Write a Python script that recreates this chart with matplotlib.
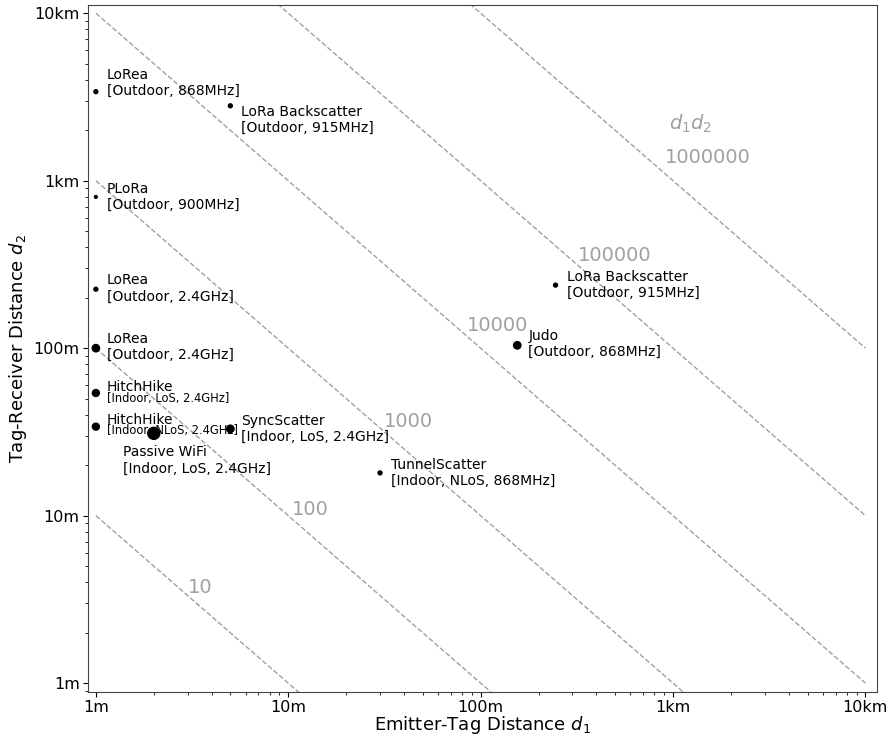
import numpy as np
import matplotlib
matplotlib.use("Agg")
import matplotlib.pyplot as plt
from matplotlib.ticker import FixedLocator, FixedFormatter, LogLocator, NullFormatter

# ---- data ----
names = ["LoRea", "LoRa Backscatter", "PLoRa", "LoRea", "LoRea", "HitchHike",
         "HitchHike", "Passive WiFi", "SyncScatter", "TunnelScatter", "Judo",
         "LoRa Backscatter"]
details = ["[Outdoor, 868MHz]", "[Outdoor, 915MHz]", "[Outdoor, 900MHz]",
           "[Outdoor, 2.4GHz]", "[Outdoor, 2.4GHz]", "[Indoor, LoS, 2.4GHz]",
           "[Indoor, NLoS, 2.4GHz]", "[Indoor, LoS, 2.4GHz]", "[Indoor, LoS, 2.4GHz]",
           "[Indoor, NLoS, 868MHz]", "[Outdoor, 868MHz]", "[Outdoor, 915MHz]"]
d1 = [1, 5, 1, 1, 1, 1, 1, 2, 5, 30, 155, 245]
d2 = [3400, 2800, 800, 225, 100, 54, 34, 31, 33, 18, 104, 238]
sizes = [8, 8, 4, 8, 28, 25, 25, 75, 28, 8, 28, 8]

products = [10, 100, 1000, 10000, 100000, 1000000]
prod_label_x = [3.5, 13.0, 42, 122, 500, 1520]
prod_label_y = [3.7, 10.9, 36.7, 137, 359, 1380]

tick_vals = [1, 10, 100, 1000, 10000]
tick_labels = ["1m", "10m", "100m", "1km", "10km"]

# label offsets (points) and small-bracket flags
offsets = [(8, 6.5), (8, -10), (8, 0), (8, 0.5), (8, 1), (8, 0), (8, 1),
           (-22, -19.5), (8, 0), (8, 0), (8, 1), (8, 0)]
small = [False, False, False, False, False, True, True, False, False, False, False, False]

fig = plt.figure(figsize=(8.95, 7.41), dpi=100)
ax = fig.add_axes([0.0983, 0.0661, 0.8817, 0.9272])
ax.set_xscale("log")
ax.set_yscale("log")

gray = "#a0a0a0"
xs = np.logspace(0, 4, 200)
for p, lx, ly in zip(products, prod_label_x, prod_label_y):
    ax.plot(xs, p / xs, linestyle="--", color=gray, linewidth=1.0, zorder=1)
    ax.text(lx, ly, str(p), color=gray, fontsize=14, ha="center", va="center", zorder=2)
ax.text(1230, 2180, r"$d_1d_2$", color=gray, fontsize=14, ha="center", va="center")

ax.scatter(d1, d2, s=sizes, color="black", zorder=3)

for i in range(len(names)):
    ox, oy = offsets[i]
    if small[i]:
        ax.annotate(names[i], (d1[i], d2[i]), xytext=(ox, oy + 4),
                    textcoords="offset points", ha="left", va="center", fontsize=10)
        ax.annotate(details[i], (d1[i], d2[i]), xytext=(ox, oy - 4),
                    textcoords="offset points", ha="left", va="center", fontsize=8.3)
    else:
        ax.annotate(names[i] + "\n" + details[i], (d1[i], d2[i]), xytext=(ox, oy),
                    textcoords="offset points", ha="left", va="center", fontsize=10)

ax.set_xlim(0.91, 11500)
ax.set_ylim(0.885, 11200)
for axis in (ax.xaxis, ax.yaxis):
    axis.set_major_locator(FixedLocator(tick_vals))
    axis.set_major_formatter(FixedFormatter(tick_labels))
    axis.set_minor_locator(LogLocator(base=10, subs=np.arange(2, 10)))
    axis.set_minor_formatter(NullFormatter())
ax.tick_params(axis="both", which="major", labelsize=11.5, pad=2.5)

ax.set_xlabel(r"Emitter-Tag Distance $d_1$", fontsize=13, labelpad=-1)
ax.set_ylabel(r"Tag-Receiver Distance $d_2$", fontsize=13, labelpad=3)

for sp in ax.spines.values():
    sp.set_color("#444444")

fig.savefig("out.png", dpi=100)
